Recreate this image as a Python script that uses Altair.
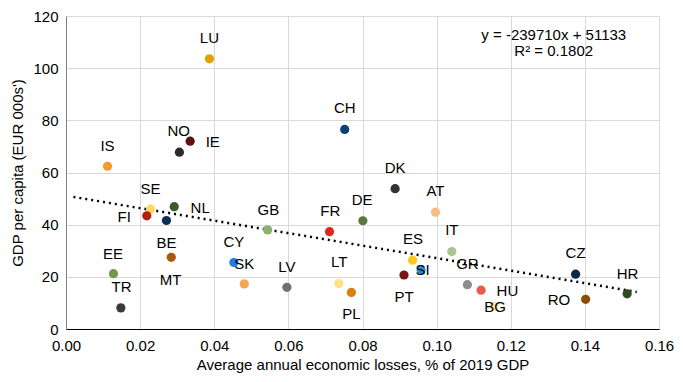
import altair as alt
import pandas as pd

countries = ["LU","IS","NO","IE","CH","DK","AT","DE","FR","IT","ES","SI","PT","CZ","GR","HU",
             "BG","RO","HR","LT","PL","SE","FI","NL","BE","MT","EE","TR","CY","SK","LV","GB"]
losses = [0.0387,0.0112,0.0306,0.0335,0.0752,0.0888,0.0997,0.0801,0.0711,0.1041,0.0935,0.0958,
          0.0912,0.1375,0.1083,0.1120,0.1156,0.1402,0.1514,0.0736,0.0770,0.0228,0.0218,0.0292,
          0.0271,0.0284,0.0128,0.0148,0.0453,0.0481,0.0596,0.0544]
gdp = [103.6,62.4,67.8,72.0,76.5,53.8,44.8,41.5,37.3,29.7,26.4,22.7,20.7,21.0,17.0,14.9,
       8.8,11.4,13.5,17.4,14.0,46.0,43.4,46.9,41.6,27.5,21.2,8.1,25.5,17.3,16.0,38.0]
label_x = [0.0387,0.0112,0.0304,0.0396,0.0752,0.0888,0.0997,0.0799,0.0713,0.1041,0.0936,0.0962,
           0.0912,0.1375,0.1083,0.1191,0.1158,0.1330,0.1515,0.0737,0.0770,0.0228,0.0157,0.0362,
           0.0271,0.0282,0.0127,0.0150,0.0453,0.0481,0.0596,0.0546]
label_y = [111.6,70.1,75.8,71.6,84.6,61.7,53.0,49.4,45.4,38.0,34.4,22.7,12.3,29.1,25.0,14.5,
           8.4,11.0,21.2,25.5,5.8,53.8,43.0,46.5,32.9,18.7,28.8,16.0,33.4,25.0,23.7,45.6]
colors = ["#E0A000","#F39A2E","#2B2B2B","#5C1010","#0B3F77","#333333","#F6BE80","#5A7A3C",
          "#E0281C","#A8C68F","#FFC61E","#1E90E0","#7A1515","#0A2A4A","#8D8D8D","#EE5A4A",
          "#FDE9A8","#8A4F06","#2E4A24","#FFE08A","#D8800F","#FFD966","#B22010","#3E5A2A",
          "#0C2E55","#A85A0A","#6F9A4A","#3A3A3A","#1F7EE0","#F5A54F","#707070","#8FB06D"]

trend_x = [0.002, 0.154]
slope = -239.710
intercept = 51.133
eq_lines = ["y = -239710x + 51133", "R\u00b2 = 0.1802"]
eq_x = [0.1316, 0.1316]
eq_y = [112.6, 106.6]

df = pd.DataFrame({"c": countries, "x": losses, "y": gdp, "lx": label_x, "ly": label_y, "col": colors})
tdf = pd.DataFrame({"x": trend_x, "y": [slope * v + intercept for v in trend_x]})
edf = pd.DataFrame({"t": eq_lines, "x": eq_x, "y": eq_y})

xs = alt.Scale(domain=[0, 0.16], nice=False, zero=False)
ys = alt.Scale(domain=[0, 120], nice=False)

FONT = "Liberation Sans"
xaxis = alt.Axis(values=[0, 0.02, 0.04, 0.06, 0.08, 0.10, 0.12, 0.14, 0.16], format=".2f",
                 title="Average annual economic losses, % of 2019 GDP", grid=True,
                 gridColor="#D9D9D9", domainColor="#000000", ticks=False, labelPadding=9,
                 labelFlush=False, labelFontSize=15, titleFontSize=15, titleFontWeight="normal",
                 titlePadding=4, labelColor="#000000", titleColor="#000000", labelFont=FONT,
                 titleFont=FONT)
yaxis = alt.Axis(values=[0, 20, 40, 60, 80, 100, 120], title="GDP per capita (EUR 000s')", grid=True,
                 gridColor="#D9D9D9", domainColor="#808080", ticks=False, labelPadding=8,
                 labelFlush=False, labelFontSize=15, titleFontSize=15, titleFontWeight="normal",
                 titlePadding=7, labelColor="#000000", titleColor="#000000", labelFont=FONT,
                 titleFont=FONT)

base_pts = alt.Chart(df).mark_circle(size=85, opacity=1).encode(
    x=alt.X("x:Q", scale=xs, axis=xaxis),
    y=alt.Y("y:Q", scale=ys, axis=yaxis),
    color=alt.Color("col:N", scale=None),
)
trend = alt.Chart(tdf).mark_line(color="#000000", strokeDash=[2, 4], strokeWidth=2.5).encode(
    x=alt.X("x:Q", scale=xs), y=alt.Y("y:Q", scale=ys))
labels = alt.Chart(df).mark_text(fontSize=15, font=FONT, color="#000000",
                                 align="center", baseline="middle").encode(
    x=alt.X("lx:Q", scale=xs), y=alt.Y("ly:Q", scale=ys), text="c:N")
eq = alt.Chart(edf).mark_text(fontSize=15, font=FONT, color="#000000",
                              align="center", baseline="middle").encode(
    x=alt.X("x:Q", scale=xs), y=alt.Y("y:Q", scale=ys), text="t:N")

chart = alt.layer(trend, base_pts, labels, eq).properties(
    width=593, height=313,
    autosize=alt.AutoSizeParams(type="none"),
    padding={"left": 58, "top": 8, "right": 16, "bottom": 45},
).configure_view(stroke=None)

chart.save("out.html", embed_options={"renderer": "svg", "actions": False})
